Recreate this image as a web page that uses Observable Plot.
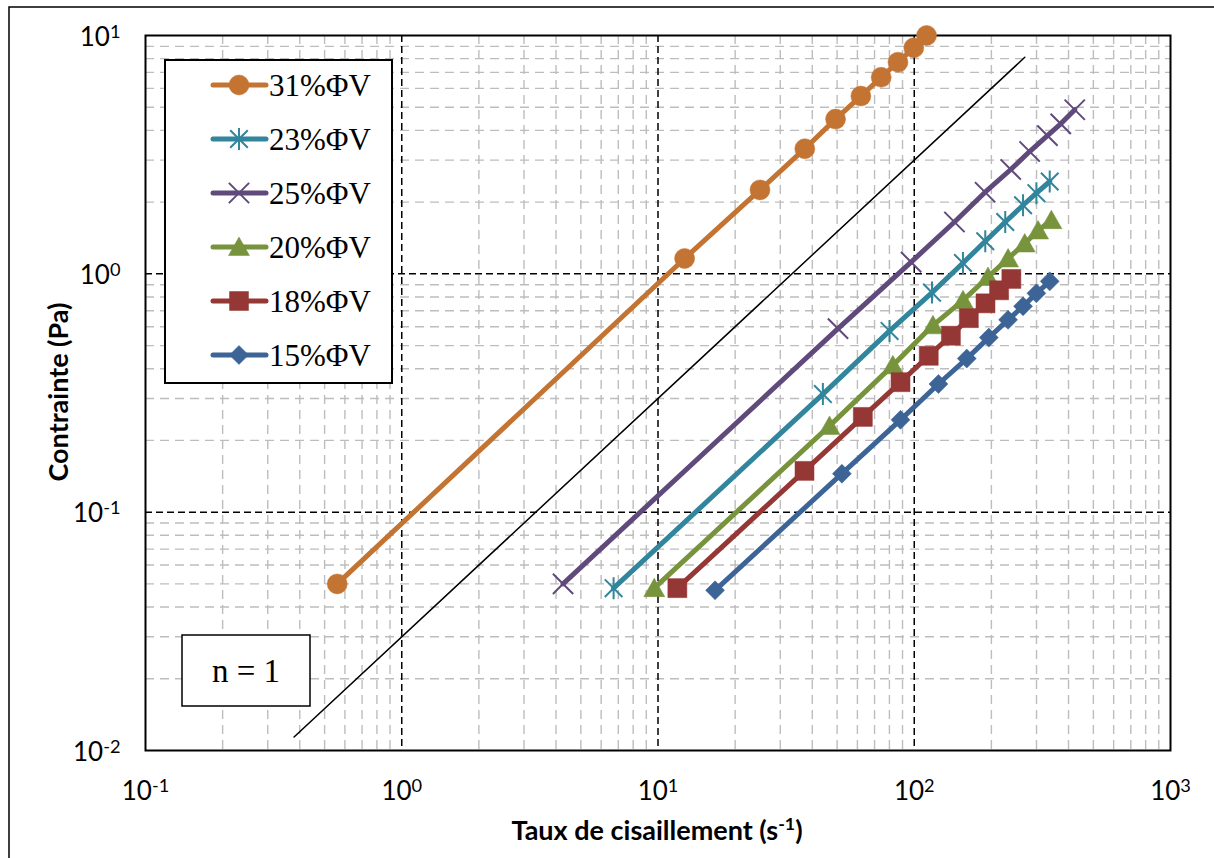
<!DOCTYPE html>
<html><head><meta charset="utf-8">
<script src="https://cdn.jsdelivr.net/npm/d3@7"></script>
<script src="https://cdn.jsdelivr.net/npm/@observablehq/plot@0.6"></script>
<style>
body{margin:0;background:#fff;}
#chart{position:relative;width:1214px;height:858px;overflow:hidden;}
</style>
</head><body><div id="chart"></div>
<script>
// ---- data ----
const seriesNames = ["31%ΦV","23%ΦV","25%ΦV","20%ΦV","18%ΦV","15%ΦV"];
const seriesColors = ["#C47432","#31859C","#604A7B","#77933C","#953735","#3C6496"];

const rate31 = [0.56, 12.7, 25.0, 37.4, 49.3, 61.9, 74.3, 86.4, 99.6, 111.7];
const stress31 = [0.050, 1.16, 2.25, 3.35, 4.46, 5.57, 6.68, 7.73, 8.88, 10.0];
const rate23 = [6.71, 44.0, 80.1, 117.3, 154.9, 189.3, 226.5, 265.8, 299.7, 337.8];
const stress23 = [0.048, 0.313, 0.576, 0.834, 1.11, 1.37, 1.65, 1.94, 2.18, 2.44];
const rate25 = [4.26, 50.4, 97.2, 143.5, 189, 238, 282, 331, 373, 423];
const stress25 = [0.050, 0.589, 1.12, 1.65, 2.20, 2.74, 3.26, 3.80, 4.26, 4.88];
const rate20 = [9.67, 46.7, 82.5, 118.3, 155, 194, 232.4, 269.8, 304.3, 342.9];
const stress20 = [0.048, 0.230, 0.413, 0.608, 0.774, 0.970, 1.16, 1.34, 1.52, 1.68];
const rate18 = [11.9, 37.3, 63.0, 88.4, 113.9, 139, 163.3, 189.7, 214.3, 239.3];
const stress18 = [0.048, 0.149, 0.251, 0.351, 0.453, 0.550, 0.652, 0.752, 0.853, 0.952];
const rate15 = [16.7, 52.2, 88.4, 124.3, 160.3, 195.4, 232.3, 265.8, 299.7, 337.8];
const stress15 = [0.047, 0.145, 0.244, 0.345, 0.441, 0.540, 0.641, 0.731, 0.828, 0.930];

// reference line (n = 1)
const refRate = [0.38, 270];
const refStress = [0.0114, 8.1];

const xTickValues = [0.1, 1, 10, 100, 1000];
const xTickLabels = ["10^-1","10^0","10^1","10^2","10^3"];
const yTickValues = [0.01, 0.1, 1, 10];
const yTickLabels = ["10^-2","10^-1","10^0","10^1"];
const xMajorGrid = [1, 10, 100];
const yMajorGrid = [0.1, 1];
const mult = [2,3,4,5,6,7,8,9];
const xMinorGrid = [0.1, 1, 10, 100].flatMap(d => mult.map(m => d*m));
const yMinorGrid = [0.01, 0.1, 1].flatMap(d => mult.map(m => d*m));

const xTitle = "Taux de cisaillement (s^-1)";
const yTitle = "Contrainte (Pa)";
const noteText = "n = 1";

// ---- symbols ----
const R = s => Math.sqrt(s/Math.PI);
const symCircle = d3.symbolCircle;
const symStar = {draw(c,s){const r=R(s),a=r*0.8;c.moveTo(0,-r);c.lineTo(0,r);c.moveTo(-a,-a);c.lineTo(a,a);c.moveTo(-a,a);c.lineTo(a,-a);}};
const symX = {draw(c,s){const r=R(s),a=r*0.78;c.moveTo(-a,-a);c.lineTo(a,a);c.moveTo(-a,a);c.lineTo(a,-a);}};
const symTri = {draw(c,s){const r=R(s);c.moveTo(0,-r);c.lineTo(r*1.05,r*0.85);c.lineTo(-r*1.05,r*0.85);c.closePath();}};
const symSq = {draw(c,s){const r=R(s);c.rect(-r,-r,2*r,2*r);}};
const symDia = {draw(c,s){const r=R(s);c.moveTo(0,-r);c.lineTo(r,0);c.lineTo(0,r);c.lineTo(-r,0);c.closePath();}};
const seriesSymbols = [symCircle, symStar, symX, symTri, symSq, symDia];
const seriesR = [10, 11, 13, 10, 9.5, 9.5];
const seriesFilled = [true, false, false, true, true, true];

const rates = [rate31, rate23, rate25, rate20, rate18, rate15];
const stresses = [stress31, stress23, stress25, stress20, stress18, stress15];
const rows = seriesNames.map((name, i) => rates[i].map((x, j) => ({name, x, y: stresses[i][j]})));
const refRows = refRate.map((x, i) => ({x, y: refStress[i]}));

const seriesMarks = seriesNames.flatMap((name, i) => [
  Plot.line(rows[i], {x: "x", y: "y", stroke: seriesColors[i], strokeWidth: 5}),
  Plot.dot(rows[i], {x: "x", y: "y", r: seriesR[i], symbol: seriesSymbols[i],
    fill: seriesFilled[i] ? seriesColors[i] : "none",
    stroke: seriesColors[i], strokeWidth: seriesFilled[i] ? 0.5 : 2})
]);

const svgEl = Plot.plot({
  width: 1214, height: 858,
  marginLeft: 145, marginRight: 44, marginTop: 35, marginBottom: 108,
  style: {fontFamily: "Lato, sans-serif", background: "white", overflow: "visible"},
  x: {type: "log", domain: [0.1, 1000]},
  y: {type: "log", domain: [0.01, 10]},
  marks: [
    Plot.ruleX(xMinorGrid, {stroke: "#bdbdbd", strokeWidth: 1.4, strokeDasharray: "9,6"}),
    Plot.ruleY(yMinorGrid, {stroke: "#bdbdbd", strokeWidth: 1.4, strokeDasharray: "9,6"}),
    Plot.ruleX(xMajorGrid, {stroke: "black", strokeWidth: 1.5, strokeDasharray: "7,4"}),
    Plot.ruleY(yMajorGrid, {stroke: "black", strokeWidth: 1.5, strokeDasharray: "7,4"}),
    Plot.frame({stroke: "black", strokeWidth: 2}),
    Plot.axisX({ticks: xTickValues, tickFormat: d => xTickLabels[xTickValues.indexOf(d)], tickSize: 0, tickPadding: 31,
      fontSize: 26, label: null}),
    Plot.axisY({ticks: yTickValues, tickFormat: d => yTickLabels[yTickValues.indexOf(d)], tickSize: 0, tickPadding: 25,
      fontSize: 26, dy: 2, label: null}),
    Plot.line(refRows, {x: "x", y: "y", stroke: "black", strokeWidth: 1.5}),
    ...seriesMarks
  ]
});
document.getElementById("chart").appendChild(svgEl);
const svg = d3.select(svgEl);

// superscripts
function supify(t, small, raise) {
  const s = t.textContent;
  const m = s.match(/^(.*)\^(-?\d+)(.*)$/);
  if (!m) return;
  t.textContent = m[1];
  const sel = d3.select(t);
  sel.append("tspan").attr("dy", -raise).style("font-size", small).text(m[2]);
  if (m[3]) sel.append("tspan").attr("dy", raise).style("font-size", "100%").text(m[3]);
}
svg.selectAll("text").each(function(){ supify(this, "70%", 8); });

// axis titles
const tg = svg.append("g").style("font-family", "Lato, sans-serif").style("font-weight", "bold")
  .style("font-size", "27px").attr("fill", "black");
const xt = tg.append("text").attr("x", 657).attr("y", 840).attr("text-anchor", "middle").text(xTitle);
supify(xt.node(), "66%", 10);
tg.append("text").attr("transform", "translate(68,392) rotate(-90)").attr("text-anchor", "middle").text(yTitle);

// outer chart border
svg.append("rect").attr("x", 9).attr("y", 7).attr("width", 1214).attr("height", 860)
  .attr("fill", "none").attr("stroke", "black").attr("stroke-width", 1.5);

// legend
const serif = "'Liberation Serif', 'Times New Roman', serif";
const lg = svg.append("g");
lg.append("rect").attr("x", 165).attr("y", 60).attr("width", 227).attr("height", 323)
  .attr("fill", "white").attr("stroke", "black").attr("stroke-width", 2);
seriesNames.forEach((name, i) => {
  const cy = 85 + i * 54;
  lg.append("line").attr("x1", 213).attr("x2", 266).attr("y1", cy).attr("y2", cy)
    .attr("stroke", seriesColors[i]).attr("stroke-width", 5).attr("stroke-linecap", "round");
  lg.append("path").attr("transform", `translate(239,${cy})`)
    .attr("d", d3.symbol(seriesSymbols[i], Math.PI * seriesR[i] * seriesR[i])())
    .attr("fill", seriesFilled[i] ? seriesColors[i] : "none")
    .attr("stroke", seriesColors[i]).attr("stroke-width", seriesFilled[i] ? 0.5 : 2);
  lg.append("text").attr("x", 269).attr("y", cy).attr("dy", "0.35em")
    .attr("text-anchor", "start")
    .style("font-family", serif).style("font-size", "31px")
    .attr("fill", "black").text(name);
});

// n = 1 note
const ng = svg.append("g");
ng.append("rect").attr("x", 182).attr("y", 635).attr("width", 128).attr("height", 71)
  .attr("fill", "white").attr("stroke", "black").attr("stroke-width", 1.5);
ng.append("text").attr("x", 246).attr("y", 670).attr("dy", "0.35em").attr("text-anchor", "middle")
  .style("font-family", serif).style("font-size", "33px")
  .attr("fill", "black").text(noteText);
</script>
</body></html>
